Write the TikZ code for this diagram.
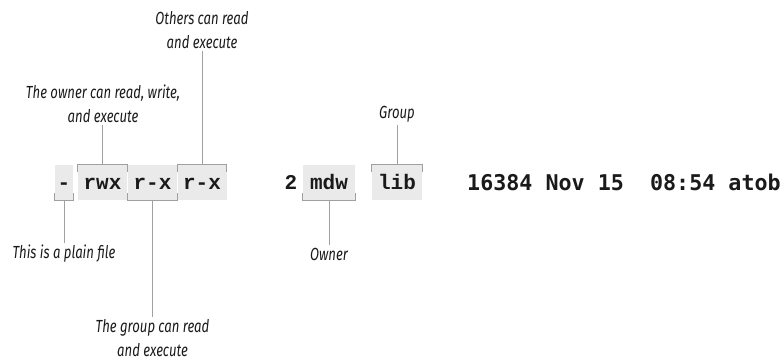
\documentclass[tikz,border=0pt]{standalone}
\usepackage{fontspec}
\usepackage{xcolor}
\usepackage{tikz}
\usetikzlibrary{calc}
\newfontfamily\fieldfont{Liberation Mono}
\newfontfamily\restfont{DejaVu Sans Mono}
\newfontfamily\notefont[FakeStretch=0.75]{Fira Sans}
\definecolor{ink}{HTML}{1A1A1A}
\definecolor{shade}{HTML}{EAEAEA}
\definecolor{rule}{HTML}{A0A0A0}
\tikzset{
  field/.style={fill=shade, inner sep=0pt, text height=24pt, text depth=11pt, anchor=base, text=ink, font=\fieldfont\bfseries\fontsize{21}{21}\selectfont},
  plain/.style={inner sep=0pt, anchor=base, text=ink, font=\fieldfont\bfseries\fontsize{21}{21}\selectfont},
  rest/.style={inner sep=0pt, anchor=base west, text=ink, font=\restfont\bfseries\fontsize{21.7}{22}\selectfont},
  brk/.style={draw=rule, line width=1pt},
  lead/.style={draw=rule, line width=0.9pt},
  note/.style={text=ink, align=center, inner sep=2.5pt, font=\notefont\itshape\fontsize{17.5}{24}\selectfont},
}
\begin{document}
\begin{tikzpicture}[x=1pt,y=-1pt]
  \useasboundingbox (0,0) rectangle (783,360);

  % the listing line
  \node[field,minimum width=18pt] (type)  at (64,189)  {-};
  \node[field,minimum width=49pt] (uperm) at (102.5,189) {rwx};
  \node[field,minimum width=49pt] (gperm) at (152.5,189) {r-x};
  \node[field,minimum width=49pt] (operm) at (202,189) {r-x};
  \node[plain] (links) at (291,189) {2};
  \node[field,minimum width=52pt] (owner) at (329,189) {mdw};
  \node[field,minimum width=50pt] (group) at (397,189) {lib};
  \node[rest] (rest) at (467,190) {16384 Nov 15\ \ 08:54 atob};

  % notes
  \node[note] (opermlab) at (202,30)    {Others can read\\and execute};
  \node[note] (upermlab) at (103,103.5) {The owner can read, write,\\and execute};
  \node[note] (grouplab) at (397,114)   {Group};
  \node[note] (typelab)  at (64,254)    {This is a plain file};
  \node[note] (ownerlab) at (329,254)   {Owner};
  \node[note] (gpermlab) at (152.5,338) {The group can read\\and execute};

  % brackets above and below
  \foreach \X in {uperm,operm,group}{
    \draw[brk] ([yshift=-7pt]\X.north west) -- (\X.north west) -- (\X.north east) -- ([yshift=-7pt]\X.north east);
  }
  \foreach \X in {type,gperm,owner}{
    \draw[brk] ([yshift=7pt]\X.south west) -- (\X.south west) -- (\X.south east) -- ([yshift=7pt]\X.south east);
  }
  \foreach \X/\L in {uperm/upermlab,operm/opermlab,group/grouplab}{
    \draw[lead] (\X.north) -- (\X.north |- \L.south);
  }
  \foreach \X/\L in {type/typelab,gperm/gpermlab,owner/ownerlab}{
    \draw[lead] (\X.south) -- (\X.south |- \L.north);
  }
\end{tikzpicture}
\end{document}
